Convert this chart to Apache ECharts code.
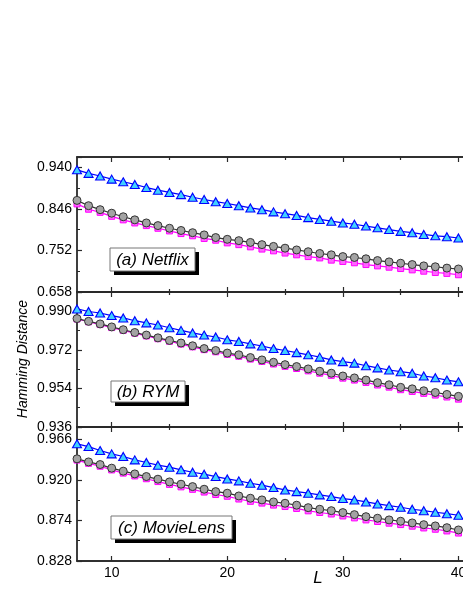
<!DOCTYPE html>
<html>
<head>
<meta charset="utf-8">
<script src="https://cdn.jsdelivr.net/npm/echarts@6/dist/echarts.min.js"></script>
<style>
html, body { margin: 0; padding: 0; background: #fff; }
#chart { width: 463px; height: 599px; }
</style>
</head>
<body>
<div id="chart"></div>
<script>
// x categories (list length L)
const L = [7, 8, 9, 10, 11, 12, 13, 14, 15, 16, 17, 18, 19, 20, 21, 22, 23, 24, 25, 26, 27, 28, 29, 30, 31, 32, 33, 34, 35, 36, 37, 38, 39, 40];

// (a) Netflix
const netflixTri = [0.934, 0.926, 0.920, 0.913, 0.907, 0.901, 0.894, 0.888, 0.883, 0.878, 0.872, 0.867, 0.862, 0.858, 0.853, 0.848, 0.844, 0.839, 0.835, 0.831, 0.826, 0.822, 0.818, 0.814, 0.811, 0.807, 0.803, 0.799, 0.795, 0.792, 0.788, 0.785, 0.783, 0.780];
const netflixCirc = [0.865, 0.853, 0.844, 0.836, 0.828, 0.821, 0.814, 0.808, 0.802, 0.797, 0.792, 0.787, 0.781, 0.777, 0.774, 0.770, 0.765, 0.761, 0.757, 0.753, 0.749, 0.745, 0.742, 0.738, 0.736, 0.733, 0.729, 0.726, 0.723, 0.720, 0.717, 0.715, 0.712, 0.710];
const netflixSq = [0.857, 0.845, 0.838, 0.829, 0.821, 0.814, 0.808, 0.802, 0.796, 0.790, 0.785, 0.779, 0.775, 0.769, 0.765, 0.760, 0.755, 0.751, 0.746, 0.742, 0.738, 0.735, 0.730, 0.727, 0.724, 0.720, 0.717, 0.714, 0.711, 0.708, 0.705, 0.702, 0.700, 0.697];

// (b) RYM
const rymTri = [0.9911, 0.9899, 0.9892, 0.9880, 0.9869, 0.9856, 0.9846, 0.9836, 0.9823, 0.9811, 0.9799, 0.9789, 0.9780, 0.9767, 0.9759, 0.9748, 0.9738, 0.9726, 0.9717, 0.9707, 0.9697, 0.9686, 0.9673, 0.9665, 0.9658, 0.9646, 0.9636, 0.9626, 0.9618, 0.9611, 0.9598, 0.9590, 0.9579, 0.9571];
const rymCirc = [0.9866, 0.9853, 0.9841, 0.9827, 0.9814, 0.9801, 0.9789, 0.9776, 0.9764, 0.9752, 0.9739, 0.9726, 0.9717, 0.9705, 0.9697, 0.9684, 0.9673, 0.9662, 0.9651, 0.9642, 0.9631, 0.9620, 0.9611, 0.9598, 0.9589, 0.9579, 0.9567, 0.9557, 0.9545, 0.9538, 0.9529, 0.9521, 0.9512, 0.9503];
const rymSq = [0.9864, 0.9851, 0.9838, 0.9824, 0.9811, 0.9798, 0.9785, 0.9772, 0.9760, 0.9747, 0.9734, 0.9721, 0.9711, 0.9699, 0.9690, 0.9677, 0.9666, 0.9654, 0.9643, 0.9633, 0.9622, 0.9611, 0.9601, 0.9588, 0.9579, 0.9568, 0.9556, 0.9546, 0.9534, 0.9526, 0.9517, 0.9509, 0.9500, 0.9490];

// (c) MovieLens
const mlTri = [0.9609, 0.9578, 0.9533, 0.9495, 0.9465, 0.9427, 0.9397, 0.9367, 0.9344, 0.9314, 0.9287, 0.9265, 0.9238, 0.9211, 0.9189, 0.9162, 0.9140, 0.9113, 0.9086, 0.9067, 0.9049, 0.9030, 0.9011, 0.8988, 0.8973, 0.8950, 0.8927, 0.8908, 0.8890, 0.8867, 0.8851, 0.8833, 0.8817, 0.8799];
const mlCirc = [0.9439, 0.9404, 0.9374, 0.9333, 0.9299, 0.9268, 0.9238, 0.9208, 0.9177, 0.9151, 0.9124, 0.9094, 0.9067, 0.9049, 0.9018, 0.8992, 0.8973, 0.8950, 0.8935, 0.8913, 0.8885, 0.8867, 0.8851, 0.8829, 0.8806, 0.8783, 0.8765, 0.8746, 0.8731, 0.8712, 0.8692, 0.8678, 0.8658, 0.8632];
const mlSq = [0.9425, 0.9388, 0.9355, 0.9313, 0.9277, 0.9245, 0.9213, 0.9181, 0.9149, 0.9121, 0.9093, 0.9062, 0.9034, 0.9014, 0.8983, 0.8957, 0.8937, 0.8914, 0.8898, 0.8876, 0.8849, 0.8830, 0.8813, 0.8791, 0.8769, 0.8746, 0.8728, 0.8709, 0.8693, 0.8675, 0.8655, 0.8640, 0.8621, 0.8597];

// axis ticks
const panelNames = ['(a) Netflix', '(b) RYM', '(c) MovieLens'];
const yMin = [0.658, 0.936, 0.828];
const yStep = [0.094, 0.018, 0.046];
const yMax = [0.963, 0.999, 0.980];
const xMajor = [10, 20, 30, 40];
const xMinor = [15, 25, 35];

const triData = [netflixTri, rymTri, mlTri];
const circData = [netflixCirc, rymCirc, mlCirc];
const sqData = [netflixSq, rymSq, mlSq];

const FONT = 'Liberation Sans, Arial, sans-serif';
const AXIS_COLOR = '#2a2a2a';
const gridTop = [157, 292, 427];
const gridH = [135, 135, 134];
// label boxes [x, y, w, h]
const boxes = [[110, 248, 85, 23], [111, 381, 74, 21], [111, 516, 121, 23]];

const chart = echarts.init(document.getElementById('chart'));

const grid = [], xAxis = [], yAxis = [], series = [], graphic = [];

for (let p = 0; p < 3; p++) {
  grid.push({left: 77, width: 393, top: gridTop[p], height: gridH[p], show: true,
    outerBoundsMode: 'none', containLabel: false,
    borderColor: AXIS_COLOR, borderWidth: 1.2, backgroundColor: 'transparent'});
}
// overlay grids only for minor x ticks
for (let p = 0; p < 3; p++) {
  grid.push({left: 77, width: 393, top: gridTop[p], height: gridH[p],
    outerBoundsMode: 'none', containLabel: false});
}

const xBase = (gi, pos, ticks, len, labels) => ({
  type: 'value', gridIndex: gi, position: pos, min: 7, max: 41,
  axisLine: {show: true, lineStyle: {color: AXIS_COLOR, width: 1.5}},
  axisTick: {show: true, inside: true, length: len, customValues: ticks, lineStyle: {color: AXIS_COLOR, width: 1.2}},
  axisLabel: labels ? {show: true, customValues: ticks, color: '#000', fontSize: 14, fontFamily: FONT, margin: 5}
                    : {show: false},
  splitLine: {show: false}
});

for (let p = 0; p < 3; p++) {
  xAxis.push(xBase(p, 'bottom', xMajor, 5, p === 2));
  xAxis.push(xBase(p, 'top', xMajor, 5, false));
}
for (let p = 0; p < 3; p++) {
  xAxis.push(xBase(3 + p, 'bottom', xMinor, 3, false));
  xAxis.push(xBase(3 + p, 'top', xMinor, 3, false));
}

for (let p = 0; p < 3; p++) {
  yAxis.push({
    type: 'value', gridIndex: p, min: yMin[p], max: yMax[p], interval: yStep[p],
    axisLine: {show: true, lineStyle: {color: AXIS_COLOR, width: 1.5}},
    axisTick: {show: true, inside: true, length: 5, lineStyle: {color: AXIS_COLOR, width: 1.2}},
    minorTick: {show: true, splitNumber: 2, length: 3, lineStyle: {color: AXIS_COLOR, width: 1}},
    axisLabel: {color: '#000', fontSize: 14, fontFamily: FONT, margin: 5, showMaxLabel: false,
      formatter: v => v.toFixed(3)},
    splitLine: {show: false}
  });
}
for (let p = 0; p < 3; p++) {
  yAxis.push({type: 'value', gridIndex: 3 + p, show: false});
}

for (let p = 0; p < 3; p++) {
  series.push({
    type: 'line', xAxisIndex: 2 * p, yAxisIndex: p, z: 2,
    data: L.map((x, i) => [x, sqData[p][i]]),
    symbol: 'rect', symbolSize: 6,
    itemStyle: {color: '#ff66ff', borderColor: '#ff00ff', borderWidth: 1},
    lineStyle: {color: '#ff00ff', width: 1.2},
    animation: false
  });
  series.push({
    type: 'line', xAxisIndex: 2 * p, yAxisIndex: p, z: 3,
    data: L.map((x, i) => [x, circData[p][i]]),
    symbol: 'circle', symbolSize: 8,
    itemStyle: {color: '#a3a3a3', borderColor: '#333', borderWidth: 1},
    lineStyle: {color: '#333', width: 1.2},
    animation: false
  });
  series.push({
    type: 'line', xAxisIndex: 2 * p, yAxisIndex: p, z: 4,
    data: L.map((x, i) => [x, triData[p][i]]),
    symbol: 'triangle', symbolSize: [9, 8],
    itemStyle: {color: '#40d0ff', borderColor: '#0000ff', borderWidth: 1.1},
    lineStyle: {color: '#0000ff', width: 1.2},
    animation: false
  });

  // label box: hard black shadow, white box with grey border, italic text
  const [bx, by, bw, bh] = boxes[p];
  graphic.push({type: 'rect', z: 10, shape: {x: bx + 4, y: by + 4, width: bw, height: bh},
    style: {fill: '#000'}});
  graphic.push({type: 'rect', z: 11, shape: {x: bx, y: by, width: bw, height: bh},
    style: {fill: '#fff', stroke: '#777', lineWidth: 1}});
  graphic.push({type: 'text', z: 12, x: bx + bw / 2, y: by + bh / 2 + 1,
    style: {text: panelNames[p], fontStyle: 'italic', fontSize: 17, fontFamily: FONT, fill: '#000',
      align: 'center', verticalAlign: 'middle'}});
}

graphic.push({type: 'text', x: 318, y: 578,
  style: {text: 'L', fontStyle: 'italic', fontSize: 17, fontFamily: FONT, fill: '#000',
    align: 'center', verticalAlign: 'middle'}});
graphic.push({type: 'text', x: 23, y: 359, rotation: Math.PI / 2,
  style: {text: 'Hamming Distance', fontStyle: 'italic', fontSize: 14, fontFamily: FONT, fill: '#000',
    align: 'center', verticalAlign: 'middle'}});

chart.setOption({
  animation: false,
  backgroundColor: '#fff',
  grid: grid,
  xAxis: xAxis,
  yAxis: yAxis,
  series: series,
  graphic: graphic
});
</script>
</body>
</html>
